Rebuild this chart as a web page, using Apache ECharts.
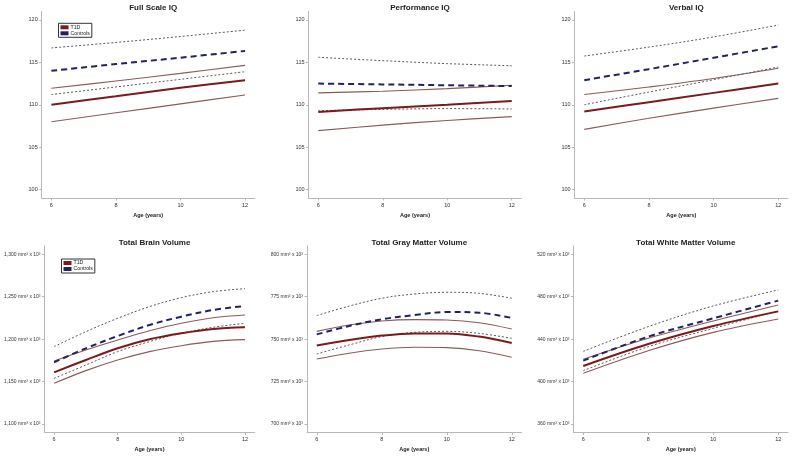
<!DOCTYPE html>
<html><head><meta charset="utf-8">
<script src="https://cdn.jsdelivr.net/npm/echarts@6/dist/echarts.min.js"></script>
<style>html,body{margin:0;padding:0;background:#fff}#c{width:793px;height:456px}</style>
</head><body><div id="c"></div>
<script>
const ages = [6, 8, 10, 12];
const agesFine = [6, 7, 8, 9, 10, 11, 12];
const xTicks = [6, 8, 10, 12];

// Full Scale IQ
const fsiqT1d = [110.0, 111.0, 112.0, 112.9];
const fsiqT1dLo = [108.0, 109.05, 110.1, 111.15];
const fsiqT1dHi = [111.95, 112.8, 113.7, 114.65];
const fsiqCtl = [114.0, 114.8, 115.55, 116.35];
const fsiqCtlLo = [111.2, 112.1, 113.0, 113.9];
const fsiqCtlHi = [116.7, 117.35, 118.05, 118.8];

// Performance IQ
const piqT1d = [109.15, 109.6, 110.0, 110.45];
const piqT1dLo = [106.95, 107.6, 108.15, 108.6];
const piqT1dHi = [111.4, 111.6, 111.9, 112.3];
const piqCtl = [112.5, 112.4, 112.3, 112.2];
const piqCtlLo = [109.3, 109.45, 109.55, 109.5];
const piqCtlHi = [115.6, 115.2, 114.85, 114.6];

// Verbal IQ
const viqT1d = [109.2, 110.3, 111.4, 112.5];
const viqT1dLo = [107.1, 108.4, 109.6, 110.75];
const viqT1dHi = [111.2, 112.1, 113.1, 114.3];
const viqCtl = [112.9, 114.2, 115.55, 116.9];
const viqCtlLo = [110.0, 111.5, 112.95, 114.45];
const viqCtlHi = [115.75, 116.8, 118.0, 119.4];

// Total Brain Volume (ages 6..12 by 1)
const tbvT1d = [1160.9, 1175.4, 1189.2, 1199.8, 1206.9, 1212.0, 1214.0];
const tbvT1dLo = [1147.9, 1162.9, 1175.4, 1185.3, 1192.3, 1197.4, 1199.4];
const tbvT1dHi = [1174.3, 1187.2, 1199.0, 1210.0, 1218.7, 1225.3, 1228.5];
const tbvCtl = [1172.7, 1189.2, 1203.7, 1216.7, 1226.5, 1234.4, 1239.1];
const tbvCtlLo = [1153.8, 1169.5, 1185.3, 1197.1, 1206.9, 1214.0, 1218.7];
const tbvCtlHi = [1191.2, 1208.8, 1224.6, 1238.3, 1248.9, 1256.0, 1259.5];

// Total Gray Matter Volume (ages 6..12 by 1)
const gmvT1d = [746.2, 749.5, 752.1, 753.4, 753.4, 751.5, 747.7];
const gmvT1dLo = [738.3, 741.7, 744.2, 745.2, 745.0, 743.2, 739.3];
const gmvT1dHi = [754.6, 758.3, 760.7, 761.5, 761.3, 759.7, 756.0];
const gmvCtl = [752.8, 757.8, 761.7, 764.2, 766.0, 765.6, 762.5];
const gmvCtlLo = [741.3, 746.6, 751.5, 754.0, 754.6, 753.4, 750.5];
const gmvCtlHi = [763.9, 769.5, 774.1, 776.6, 777.6, 777.0, 774.1];

// Total White Matter Volume
const wmvT1d = [414.7, 435.4, 452.4, 466.2];
const wmvT1dLo = [407.8, 429.1, 446.4, 459.0];
const wmvT1dHi = [421.0, 440.8, 457.1, 472.2];
const wmvCtl = [419.7, 442.4, 459.6, 476.3];
const wmvCtlLo = [410.3, 432.9, 450.2, 466.6];
const wmvCtlHi = [428.5, 451.8, 471.3, 486.4];

const iqTicks = [100, 105, 110, 115, 120];
const tbvTicks = [1100, 1150, 1200, 1250, 1300];
const gmvTicks = [700, 725, 750, 775, 800];
const wmvTicks = [360, 400, 440, 480, 520];

const titles = ['Full Scale IQ', 'Performance IQ', 'Verbal IQ', 'Total Brain Volume', 'Total Gray Matter Volume', 'Total White Matter Volume'];
const xName = 'Age (years)';
const groupNames = ['T1D', 'Controls'];

const panels = [
  {x: ages, d: [fsiqT1d, fsiqT1dLo, fsiqT1dHi, fsiqCtl, fsiqCtlLo, fsiqCtlHi], ticks: iqTicks, min: 99, max: 121, vol: false},
  {x: ages, d: [piqT1d, piqT1dLo, piqT1dHi, piqCtl, piqCtlLo, piqCtlHi], ticks: iqTicks, min: 99, max: 121, vol: false},
  {x: ages, d: [viqT1d, viqT1dLo, viqT1dHi, viqCtl, viqCtlLo, viqCtlHi], ticks: iqTicks, min: 99, max: 121, vol: false},
  {x: agesFine, d: [tbvT1d, tbvT1dLo, tbvT1dHi, tbvCtl, tbvCtlLo, tbvCtlHi], ticks: tbvTicks, min: 1090, max: 1310, vol: true},
  {x: agesFine, d: [gmvT1d, gmvT1dLo, gmvT1dHi, gmvCtl, gmvCtlLo, gmvCtlHi], ticks: gmvTicks, min: 695, max: 805, vol: true},
  {x: ages, d: [wmvT1d, wmvT1dLo, wmvT1dHi, wmvCtl, wmvCtlLo, wmvCtlHi], ticks: wmvTicks, min: 352, max: 528, vol: true}
];

const gridPos = [
  {left: 41.7, top: 11.5, width: 213, height: 186.5},
  {left: 308.6, top: 11.5, width: 212.8, height: 186.5},
  {left: 574.6, top: 11.5, width: 213.4, height: 186.5},
  {left: 44.5, top: 245.8, width: 210, height: 186.7},
  {left: 307, top: 245.8, width: 214.5, height: 186.7},
  {left: 573.5, top: 245.8, width: 214.5, height: 186.7}
];

const FONT = '"Liberation Sans", Arial, sans-serif';
const axisColor = '#b8b8b8';
const T1D_COLOR = '#7a1a1a';
const T1D_CI = '#8c5a5a';
const CTL_COLOR = '#22235e';
const CTL_CI = '#5a5a5a';

const fmtNum = v => v.toLocaleString('en-US');

const grid = [], xAxis = [], yAxis = [], series = [], title = [];
panels.forEach((p, i) => {
  grid.push(Object.assign({outerBoundsMode: 'none', containLabel: false}, gridPos[i]));
  const g = gridPos[i];
  title.push({
    text: titles[i], left: g.left + g.width / 2, textAlign: 'center',
    top: i < 3 ? -1 : 234,
    textStyle: {fontFamily: FONT, fontSize: 8, fontWeight: 'bold', color: '#222'}
  });
  xAxis.push({
    type: 'value', gridIndex: i, min: 5.7, max: 12.3,
    name: xName, nameLocation: 'middle', nameGap: 14,
    nameTextStyle: {fontFamily: FONT, fontSize: 5.5, fontWeight: 'bold', color: '#222'},
    axisLine: {show: true, lineStyle: {color: axisColor, width: 1}},
    axisTick: {show: true, length: 2.5, customValues: xTicks, lineStyle: {color: axisColor}},
    axisLabel: {customValues: xTicks, fontFamily: FONT, fontSize: 5.5, color: '#333', margin: 4},
    splitLine: {show: false}
  });
  yAxis.push({
    type: 'value', gridIndex: i, min: p.min, max: p.max,
    axisLine: {show: true, lineStyle: {color: axisColor, width: 1}},
    axisTick: {show: true, length: 2.5, customValues: p.ticks, lineStyle: {color: axisColor}},
    axisLabel: {
      customValues: p.ticks, fontFamily: FONT, fontSize: p.vol ? 5 : 5.5, color: '#333', margin: 4,
      formatter: v => p.vol ? fmtNum(v) + ' mm\u00B3 x 10\u00B3' : String(v)
    },
    splitLine: {show: false}
  });
  const styles = [
    {name: 'T1D', color: T1D_COLOR, width: 2, type: 'solid', z: 5},
    {name: 'T1D CI lo', color: T1D_CI, width: 1.1, type: 'solid', z: 3},
    {name: 'T1D CI hi', color: T1D_CI, width: 1.1, type: 'solid', z: 3},
    {name: 'Controls', color: CTL_COLOR, width: 2, type: [6, 4], z: 6},
    {name: 'Controls CI lo', color: CTL_CI, width: 1, type: [2, 2], z: 4},
    {name: 'Controls CI hi', color: CTL_CI, width: 1, type: [2, 2], z: 4}
  ];
  styles.forEach((s, k) => {
    series.push({
      name: s.name, type: 'line', xAxisIndex: i, yAxisIndex: i,
      data: p.x.map((a, j) => [a, p.d[k][j]]),
      smooth: 0.35, showSymbol: false, symbol: 'none', silent: true,
      color: s.color, z: s.z,
      lineStyle: {color: s.color, width: s.width, type: s.type},
      itemStyle: {color: s.color}
    });
  });
});

const legendBase = {
  data: groupNames, orient: 'vertical', icon: 'rect', itemWidth: 8, itemHeight: 4, itemGap: 1,
  selectedMode: false, padding: [1.5, 2, 1.5, 2],
  borderColor: '#333', borderWidth: 1, backgroundColor: '#fff',
  textStyle: {fontFamily: FONT, fontSize: 5.2, color: '#222', padding: [0, 0, 0, -3]},
  itemStyle: {borderWidth: 0}, lineStyle: {width: 0}
};
const legend = [
  Object.assign({}, legendBase, {left: 58.5, top: 23.3}),
  Object.assign({}, legendBase, {left: 61.5, top: 259})
];

const chart = echarts.init(document.getElementById('c'), null, {renderer: 'canvas'});
chart.setOption({animation: false, backgroundColor: '#fff', title, grid, xAxis, yAxis, series, legend});
</script>
</body></html>
